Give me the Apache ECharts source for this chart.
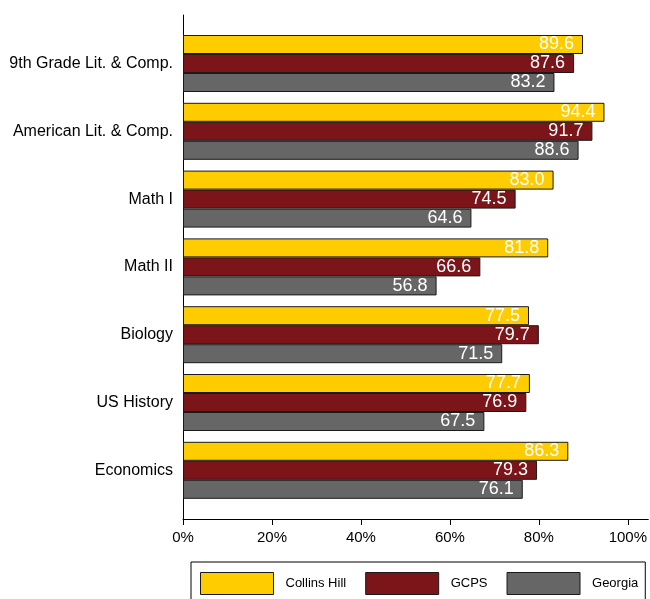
<!DOCTYPE html>
<html>
<head>
<meta charset="utf-8">
<script src="https://cdn.jsdelivr.net/npm/echarts@6/dist/echarts.min.js"></script>
<style>
html,body{margin:0;padding:0;background:#fff;}
#main{width:650px;height:599px;}
</style>
</head>
<body>
<div id="main"></div>
<script>
const categories = ['9th Grade Lit. & Comp.', 'American Lit. & Comp.', 'Math I', 'Math II', 'Biology', 'US History', 'Economics'];
const seriesNames = ['Collins Hill', 'GCPS', 'Georgia'];
const collinsHill = [89.6, 94.4, 83.0, 81.8, 77.5, 77.7, 86.3];
const gcps = [87.6, 91.7, 74.5, 66.6, 79.7, 76.9, 79.3];
const georgia = [83.2, 88.6, 64.6, 56.8, 71.5, 67.5, 76.1];
const tickValues = [0, 20, 40, 60, 80, 100];

const colors = ['#FFCC00', '#7C1519', '#666666'];
const font = "'Liberation Sans', Arial, Helvetica, sans-serif";
const AX_MAX = 104.6;

const chart = echarts.init(document.getElementById('main'), null, {renderer: 'canvas'});

function mkSeries(name, data, color) {
  return {
    name: name,
    type: 'bar',
    xAxisIndex: 0,
    yAxisIndex: 0,
    data: data,
    barWidth: 19,
    barGap: '0%',
    itemStyle: {color: color, borderColor: '#1a1a1a', borderWidth: 1},
    label: {
      show: true,
      position: 'insideRight',
      distance: 9,
      color: '#ffffff',
      fontSize: 18,
      fontFamily: font,
      formatter: p => p.value.toFixed(1)
    },
    emphasis: {disabled: true},
    animation: false
  };
}

chart.setOption({
  animation: false,
  textStyle: {fontFamily: font},
  grid: [
    {left: 183, right: 0, top: 29.6, height: 474.6, containLabel: false},
    {left: 183, right: 0, top: 15, height: 504, containLabel: false}
  ],
  xAxis: [
    {gridIndex: 0, type: 'value', min: 0, max: AX_MAX, show: false},
    {
      gridIndex: 1, type: 'value', min: 0, max: AX_MAX, interval: 20,
      axisLine: {show: true, lineStyle: {color: '#000', width: 1}},
      axisTick: {show: true, length: 6, lineStyle: {color: '#000'}, customValues: tickValues},
      splitLine: {show: false},
      axisLabel: {
        margin: 11, color: '#000', fontSize: 15, fontFamily: font,
        customValues: tickValues,
        formatter: v => v + '%'
      }
    }
  ],
  yAxis: [
    {
      gridIndex: 0, type: 'category', data: categories, inverse: true,
      axisLine: {show: false}, axisTick: {show: false}, splitLine: {show: false},
      axisLabel: {margin: 10, color: '#000', fontSize: 16, fontFamily: font}
    },
    {
      gridIndex: 1, type: 'value', min: 0, max: 1,
      axisLine: {show: true, lineStyle: {color: '#000', width: 1}},
      axisTick: {show: false}, axisLabel: {show: false}, splitLine: {show: false}
    }
  ],
  legend: {
    data: seriesNames,
    left: 191,
    top: 562,
    orient: 'horizontal',
    padding: [10, 7, 10, 9],
    borderColor: '#000',
    borderWidth: 1,
    itemWidth: 73,
    itemHeight: 22,
    itemGap: 19,
    icon: 'rect',
    selectedMode: false,
    itemStyle: {borderWidth: 1, borderColor: '#1a1a1a'},
    textStyle: {fontSize: 13, color: '#000', fontFamily: font, padding: [0, 0, 0, 7]}
  },
  series: [
    mkSeries(seriesNames[0], collinsHill, colors[0]),
    mkSeries(seriesNames[1], gcps, colors[1]),
    mkSeries(seriesNames[2], georgia, colors[2])
  ]
});
</script>
</body>
</html>
